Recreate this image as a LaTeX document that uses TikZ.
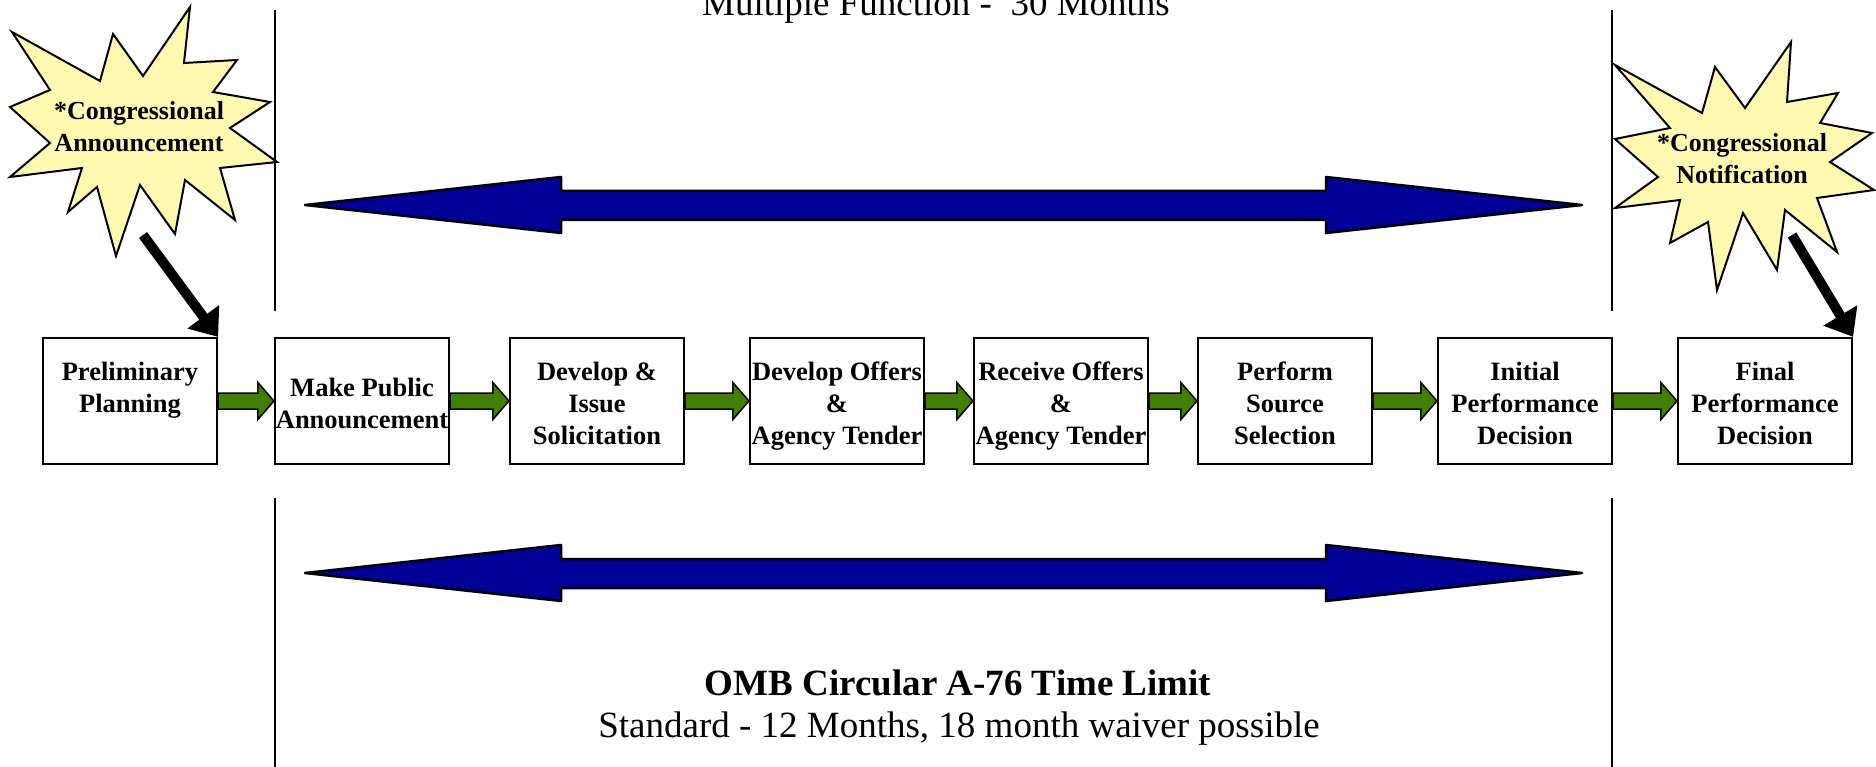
\documentclass[tikz,border=0pt]{standalone}
\usepackage{fontspec}
\setmainfont{Liberation Serif}
\usetikzlibrary{arrows.meta,calc}
\definecolor{navy}{RGB}{0,0,153}
\definecolor{leafgreen}{RGB}{64,128,0}
\definecolor{paleyellow}{RGB}{255,250,175}
\newcommand\bstrut{\rule[-7pt]{0pt}{25pt}}
\newcommand\tstrut{\rule[-7pt]{0pt}{37pt}}
\newcommand\greenarrow[2]{%
  \draw[garrow] let \p1=(#1.east), \p2=(#2.west) in
    (\x1,\y1+8pt) -- (\x2-16pt,\y1+8pt) -- (\x2-16pt,\y1+18.5pt) -- (\x2,\y1)
    -- (\x2-16pt,\y1-18.5pt) -- (\x2-16pt,\y1-8pt) -- (\x1,\y1-8pt) -- cycle;}
\begin{document}
\begin{tikzpicture}[x=1pt,y=-1pt,
  box/.style={draw, line width=2.2pt, fill=white, minimum width=174pt, minimum height=126pt,
    inner sep=0pt, align=center, font=\fontsize{26.5}{32}\selectfont\bfseries},
  garrow/.style={draw=black, line width=1.5pt, fill=leafgreen, line join=miter},
  bluearrow/.style={draw=black, line width=2.5pt, fill=navy, line join=round},
  burst/.style={draw=black, line width=2pt, fill=paleyellow, line join=miter},
  bursttext/.style={inner sep=0pt, align=center, font=\fontsize{26}{32}\selectfont\bfseries},
  vline/.style={draw=black, line width=2pt},
  blackarrow/.style={draw=black, line width=10pt, -{Triangle[length=25pt,width=38pt]}},
  bigtext/.style={inner sep=0pt, anchor=base, font=\fontsize{37}{42}\selectfont}
]
\useasboundingbox (0,0) rectangle (1876,767);
\clip (0,0) rectangle (1876,767);

% vertical limit lines
\draw[vline] (275,10) -- (275,311);
\draw[vline] (275,498) -- (275,767);
\draw[vline] (1612,10) -- (1612,311);
\draw[vline] (1612,498) -- (1612,767);

% blue double arrows
\foreach \yy in {205,573}
  \draw[bluearrow] (305,\yy) -- (561,\yy-28) -- (561,\yy-14) -- (1326,\yy-14) -- (1326,\yy-28)
    -- (1582,\yy) -- (1326,\yy+28) -- (1326,\yy+15) -- (561,\yy+15) -- (561,\yy+28) -- cycle;

% starbursts
\draw[burst] (12,32) -- (100,81) -- (113,34) -- (143,76) -- (190,7) -- (184,63) -- (237,60)
  -- (213,92) -- (270,102) -- (230,128) -- (277,162) -- (220,168) -- (235,220) -- (185,180)
  -- (175,234) -- (140,185) -- (116,256) -- (97,187) -- (68,212) -- (82,168) -- (10,177)
  -- (50,143) -- (10,107) -- (50,90) -- cycle;
\draw[burst] (1615,65) -- (1702,113) -- (1715,67) -- (1745,108) -- (1791,42) -- (1787,102)
  -- (1838,93) -- (1820,123) -- (1872,133) -- (1830,162) -- (1874,190) -- (1817,198)
  -- (1837,252) -- (1785,210) -- (1777,270) -- (1743,213) -- (1717,290) -- (1708,222)
  -- (1670,243) -- (1680,200) -- (1615,208) -- (1658,177) -- (1615,139) -- (1670,128) -- cycle;
\node[bursttext, anchor=base] (ca) at (139,152) {*Congressional\\Announcement};
\node[bursttext, anchor=base] (cn) at (1742,184) {*Congressional\\Notification};

% process boxes
\node[box] (b1) at (130,401) {\tstrut Preliminary\\\bstrut Planning\\\bstrut};
\node[box] (b2) at (362,401) {\tstrut Make Public\\\bstrut Announcement};
\node[box] (b3) at (597,401) {\tstrut Develop \&\\\bstrut Issue\\\bstrut Solicitation};
\node[box] (b4) at (837,401) {\tstrut Develop Offers\\\bstrut \&\\\bstrut Agency Tender};
\node[box] (b5) at (1061,401) {\tstrut Receive Offers\\\bstrut \&\\\bstrut Agency Tender};
\node[box] (b6) at (1285,401) {\tstrut Perform\\\bstrut Source\\\bstrut Selection};
\node[box] (b7) at (1525,401) {\tstrut Initial\\\bstrut Performance\\\bstrut Decision};
\node[box] (b8) at (1765,401) {\tstrut Final\\\bstrut Performance\\\bstrut Decision};

% green arrows
\greenarrow{b1}{b2}
\greenarrow{b2}{b3}
\greenarrow{b3}{b4}
\greenarrow{b4}{b5}
\greenarrow{b5}{b6}
\greenarrow{b6}{b7}
\greenarrow{b7}{b8}

% black arrows from bursts
\coordinate (caTail) at (143,235);
\coordinate (cnTail) at (1792,235);
\draw[blackarrow] (caTail) -- (b1.north east);
\draw[blackarrow] (cnTail) -- (b8.north east);

% texts
\node[bigtext] (toptext) at (936,16) {Multiple Function -\ \ 30 Months};
\node[bigtext, font=\fontsize{37}{42}\selectfont\bfseries] (omb) at (958,695) {OMB Circular A-76 Time Limit};
\node[bigtext] (std) at (959,737) {Standard - 12 Months, 18 month waiver possible};
\end{tikzpicture}
\end{document}
